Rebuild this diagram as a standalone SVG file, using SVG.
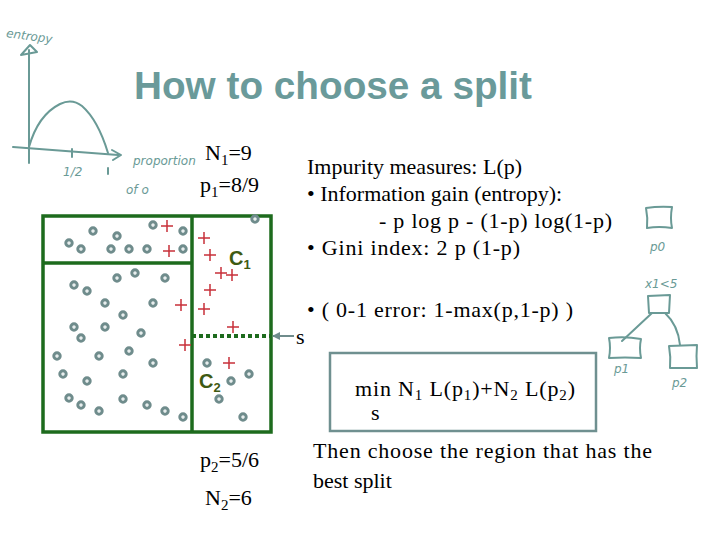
<svg xmlns="http://www.w3.org/2000/svg" width="720" height="540" viewBox="0 0 720 540">
<defs>
<style>
.title{font-family:"Liberation Sans",Arial,sans-serif;font-weight:bold;font-size:38px;fill:#6a9a9a}
.t{font-family:"Liberation Serif","Times New Roman",serif;font-size:22px;fill:#000}
.sub{font-size:15px}
.hw{font-family:"DejaVu Sans",sans-serif;font-size:12px;fill:#6a9a96;font-style:italic}
.ink{fill:none;stroke:#6a9a96;stroke-width:2;stroke-linecap:round;stroke-linejoin:round}
.g{fill:none;stroke:#1d6b1d;stroke-width:3.5}
.dot{fill:#e8eeee;stroke:#6f8c8c;stroke-width:3}
.plus{stroke:#c8303a;stroke-width:1.5;fill:none}
.c{font-family:"Liberation Sans",Arial,sans-serif;font-weight:bold;font-size:20px;fill:#3f5a12}
.cs{font-size:13px}
</style>
<marker id="ah" markerWidth="8" markerHeight="8" refX="7" refY="4" orient="auto" markerUnits="userSpaceOnUse">
<path d="M0,0 L8,4 L0,8 z" fill="#6f8c8c"/>
</marker>
<symbol id="d" overflow="visible"><circle cx="0" cy="0" r="3.2" class="dot"/></symbol>
<symbol id="p" overflow="visible"><path d="M-6,0 H6 M0,-6 V6" class="plus"/></symbol>
</defs>
<rect width="720" height="540" fill="#fff"/>

<text class="title" x="134" y="99" textLength="398" lengthAdjust="spacingAndGlyphs">How to choose a split</text>

<g id="entropy-sketch">
<text class="hw" x="6" y="40" transform="rotate(8 28 36)">entropy</text>
<path class="ink" d="M29,163 L29,50 M21,55 L30,45 L37,52 Z"/>
<path class="ink" d="M13,147 L118,155 M112,150 L121,155 L113,160"/>
<path class="ink" d="M29,147 Q38,115 60,104 Q72,98 82,106 Q98,120 108,153"/>
<path class="ink" d="M72,149 L72,157 M108,168 L108,174"/>
<text class="hw" x="63" y="176">1/2</text>
<text class="hw" x="133" y="165" font-size="13">proportion</text>
<text class="hw" x="126" y="194" font-size="18">of o</text>
</g>

<g id="n1"><text class="t" x="205" y="160" font-size="23">N<tspan class="sub" dy="5">1</tspan><tspan dy="-5">=9</tspan></text></g>
<g id="p1"><text class="t" x="200" y="192" font-size="23">p<tspan class="sub" dy="5">1</tspan><tspan dy="-5">=8/9</tspan></text></g>

<g id="measures">
<text class="t" x="307" y="174">Impurity measures: L(p)</text>
<text class="t" x="307" y="201">• Information gain (entropy):</text>
<text class="t" x="379" y="228" textLength="233">- p log p - (1-p) log(1-p)</text>
<text class="t" x="307" y="255" textLength="213">• Gini index: 2 p (1-p)</text>
<text class="t" x="307" y="317" textLength="266">• ( 0-1 error: 1-max(p,1-p) )</text>
</g>

<g id="region">
<rect class="g" x="43" y="216" width="228" height="216"/>
<path class="g" d="M192,216 V432 M43,263 H192"/>
<path d="M192,336 H271" stroke="#1d6b1d" stroke-width="4" stroke-dasharray="4,3" fill="none"/>
<g id="dots">
<use href="#d" x="153" y="225"/><use href="#d" x="183" y="231"/><use href="#d" x="93" y="231"/><use href="#d" x="117" y="236"/><use href="#d" x="69" y="243"/><use href="#d" x="81" y="249"/><use href="#d" x="111" y="249"/><use href="#d" x="129" y="249"/><use href="#d" x="147" y="249"/><use href="#d" x="183" y="249"/>
<use href="#d" x="255" y="219"/>
<use href="#d" x="117" y="278"/><use href="#d" x="135" y="273"/><use href="#d" x="165" y="278"/><use href="#d" x="74" y="285"/><use href="#d" x="87" y="291"/><use href="#d" x="105" y="303"/><use href="#d" x="153" y="303"/><use href="#d" x="123" y="315"/><use href="#d" x="74" y="327"/><use href="#d" x="105" y="327"/><use href="#d" x="81" y="338"/><use href="#d" x="141" y="333"/><use href="#d" x="57" y="356"/><use href="#d" x="99" y="356"/><use href="#d" x="129" y="351"/><use href="#d" x="153" y="363"/><use href="#d" x="63" y="374"/><use href="#d" x="87" y="381"/><use href="#d" x="123" y="374"/><use href="#d" x="69" y="398"/><use href="#d" x="81" y="405"/><use href="#d" x="99" y="411"/><use href="#d" x="123" y="399"/><use href="#d" x="147" y="405"/><use href="#d" x="165" y="411"/><use href="#d" x="183" y="417"/>
<use href="#d" x="207" y="363"/><use href="#d" x="231" y="381"/><use href="#d" x="249" y="374"/><use href="#d" x="219" y="399"/><use href="#d" x="243" y="417"/>
</g>
<g id="pluses">
<use href="#p" x="167" y="226"/><use href="#p" x="169" y="251"/><use href="#p" x="204" y="238"/><use href="#p" x="210" y="255"/><use href="#p" x="221" y="273"/><use href="#p" x="232" y="275"/><use href="#p" x="210" y="290"/><use href="#p" x="204" y="309"/><use href="#p" x="181" y="305"/><use href="#p" x="233" y="327"/><use href="#p" x="185" y="345"/><use href="#p" x="229" y="363"/>
</g>
<text class="c" x="229" y="265">C<tspan class="cs" dy="4">1</tspan></text>
<text class="c" x="199" y="388">C<tspan class="cs" dy="4">2</tspan></text>
</g>

<g id="connectors">
<path d="M294,336 H273" stroke="#6f8c8c" stroke-width="2" fill="none" marker-end="url(#ah)"/>
<path class="ink" d="M652,313 L622,341"/>
<path class="ink" d="M665,313 Q678,325 680,345"/>
</g>
<g id="s-label"><text class="t" x="296" y="344" font-size="18">s</text></g>

<g id="p2"><text class="t" x="200" y="467" font-size="23">p<tspan class="sub" dy="5">2</tspan><tspan dy="-5">=5/6</tspan></text></g>
<g id="n2"><text class="t" x="205" y="505" font-size="23">N<tspan class="sub" dy="5">2</tspan><tspan dy="-5">=6</tspan></text></g>

<g id="objective">
<rect x="330" y="353" width="266" height="78" fill="none" stroke="#6f9090" stroke-width="2.5"/>
<text class="t" x="355" y="396" textLength="220">min N<tspan class="sub" dy="4">1</tspan><tspan dy="-4"> L(p</tspan><tspan class="sub" dy="4">1</tspan><tspan dy="-4">)+N</tspan><tspan class="sub" dy="4">2</tspan><tspan dy="-4"> L(p</tspan><tspan class="sub" dy="4">2</tspan><tspan dy="-4">)</tspan></text>
<text class="t" x="371" y="420" font-size="16">s</text>
</g>

<g id="conclusion">
<text class="t" x="313" y="458" textLength="339">Then choose the region that has the</text>
<text class="t" x="313" y="488">best split</text>
</g>

<g id="tree-p0">
<path class="ink" d="M646,208 Q659,206 672,207 Q670,218 672,228 Q659,226 647,228 Q648,218 646,208 Z"/>
<text class="hw" x="650" y="251">p0</text>
</g>
<g id="tree-root">
<text class="hw" x="645" y="288">x1&lt;5</text>
<path class="ink" d="M648,296 L670,295 L669,313 L649,313 Z"/>
</g>
<g id="tree-p1">
<path class="ink" d="M609,338 Q625,336 641,339 Q639,348 641,358 Q625,357 609,358 Q611,348 609,338 Z"/>
<text class="hw" x="614" y="373" font-size="15">p1</text>
</g>
<g id="tree-p2">
<path class="ink" d="M669,346 L697,345 Q696,356 697,368 L670,368 Q671,357 669,346 Z"/>
<text class="hw" x="672" y="387" font-size="15">p2</text>
</g>
</svg>
